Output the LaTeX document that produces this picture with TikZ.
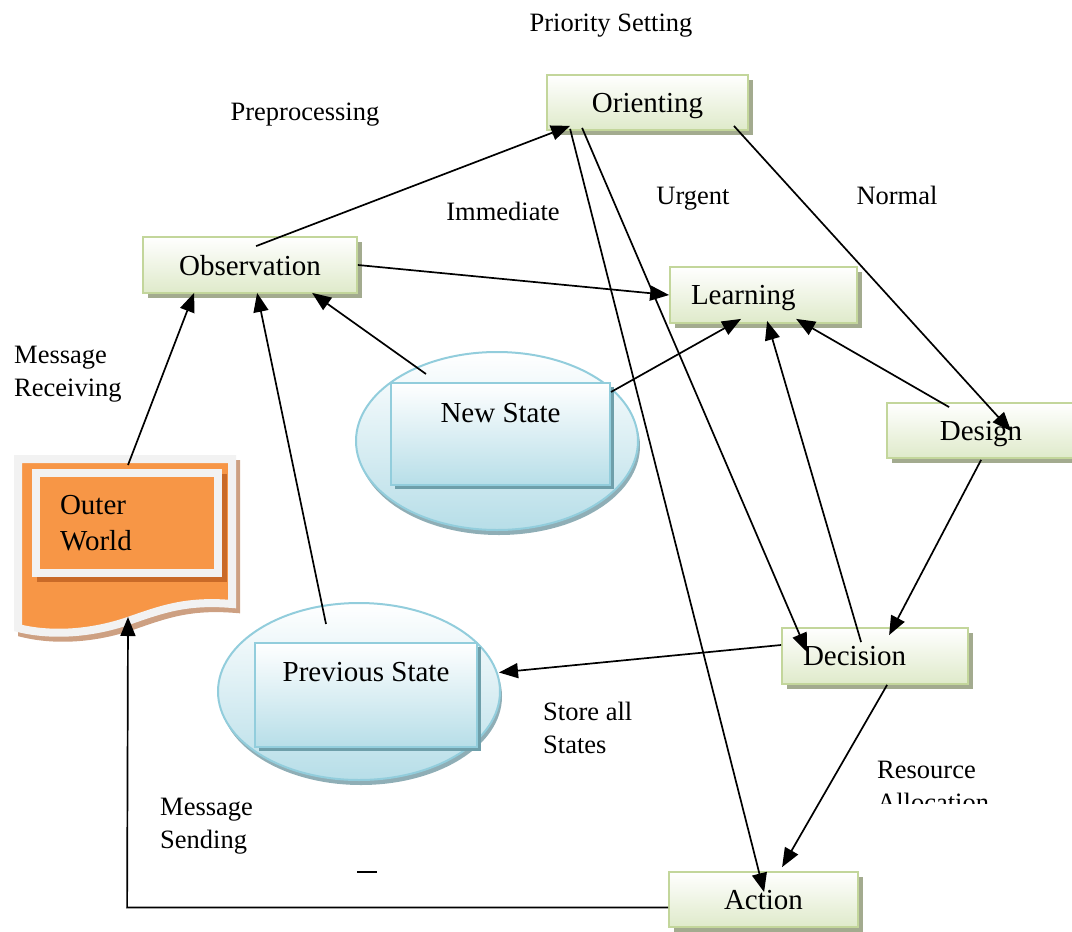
\documentclass[tikz,border=0pt]{standalone}
\usepackage{fontspec}
\setmainfont{Liberation Serif}
\usetikzlibrary{shapes.geometric,shadows,calc,arrows.meta}

\definecolor{boxline}{HTML}{C3D69B}
\definecolor{boxfill}{HTML}{DFEACA}
\definecolor{boxshadow}{HTML}{A3AB8F}
\definecolor{stateline}{HTML}{92CDDC}
\definecolor{statefill}{HTML}{B7DEE8}
\definecolor{stateshadow}{HTML}{8FAEB6}
\definecolor{rectshadow}{HTML}{6E9FAA}
\definecolor{docorange}{HTML}{F79646}
\definecolor{docborder}{HTML}{F2F2F2}
\definecolor{doctan}{HTML}{CDA082}
\definecolor{docdark}{HTML}{C96A28}

\newcommand\boxfont{\fontsize{29}{36}\selectfont}
\newcommand\lblfont{\fontsize{26.5}{32.5}\selectfont}

\tikzset{
  greenbox/.style={rectangle, draw=boxline, line width=1.8pt, top color=white,
    bottom color=boxfill, minimum height=56pt, inner sep=0pt, font=\boxfont,
    text depth=0pt,
    general shadow={fill=boxshadow, shadow xshift=5pt, shadow yshift=-5pt}},
  stateell/.style={ellipse, draw=stateline, line width=2pt, top color=white,
    bottom color=statefill, inner sep=0pt,
    general shadow={fill=stateshadow, shadow xshift=2pt, shadow yshift=-5pt}},
  staterect/.style={rectangle, draw=stateline, line width=2pt, top color=white,
    bottom color=statefill, inner sep=0pt,
    general shadow={fill=rectshadow, shadow xshift=4pt, shadow yshift=-4pt}},
  boxtext/.style={font=\boxfont, inner sep=0pt},
  lbl/.style={font=\lblfont, inner sep=0pt, align=left},
  conn/.style={line width=1.7pt, -{Triangle[length=19pt,width=15pt]}},
}

\begin{document}
\begin{tikzpicture}[x=1pt,y=-1pt]
\useasboundingbox (0,0) rectangle (1072,932);
\clip (0,0) rectangle (1072,932);

% ---- Outer world: document sheet with a wavy lower edge
\path[fill=doctan, draw=doctan, line width=8pt, shift={(4,5)}]
  (18,459) -- (232,459) -- (232,604)
  .. controls (185,600) and (160,610) .. (128,621)
  .. controls (90,634) and (50,636) .. (18,628) -- cycle;
\path[fill=docorange, draw=docborder, line width=8pt]
  (18,459) -- (232,459) -- (232,604)
  .. controls (185,600) and (160,610) .. (128,621)
  .. controls (90,634) and (50,636) .. (18,628) -- cycle;
\node[rectangle, fill=docorange, draw=docborder, line width=8pt,
  minimum width=182pt, minimum height=100pt, text width=134pt, inner xsep=24pt,
  align=left, font=\boxfont,
  general shadow={fill=docdark, draw=docdark, line width=8pt, shadow xshift=5pt, shadow yshift=-5pt}]
  (outer) at (127,523) {Outer\\World};
\coordinate (docb) at (128,617);

% ---- State ellipses
\node[stateell, minimum width=282pt, minimum height=178pt] (nsE) at (497,441) {};
\node[staterect, minimum width=219pt, minimum height=102pt] (nsR) at (500.5,434) {};
\node[boxtext] (nsT) at ($(nsR.north)+(0,31)$) {New State};

\node[stateell, minimum width=282pt, minimum height=177pt] (psE) at (359,691.5) {};
\node[staterect, minimum width=222pt, minimum height=104pt] (psR) at (366,695) {};
\node[boxtext] (psT) at ($(psR.north)+(0,30)$) {Previous State};

% ---- Process boxes
\node[greenbox, minimum width=201pt, minimum height=55pt] (ori) at (647.5,102.5) {Orienting};
\node[greenbox, minimum width=214pt] (obs) at (250,265) {Observation};
\node[greenbox, text width=145pt, inner xsep=21pt, align=left] (lrn) at (763.5,295) {Learning};
\node[greenbox, minimum width=188pt, minimum height=55pt] (des) at (981,430.5) {Design};
\node[greenbox, text width=144pt, inner xsep=21pt, align=left] (dec) at (875,656) {Decision};
\node[greenbox, minimum width=189pt, minimum height=55pt] (act) at (763.5,899.5) {Action};

% ---- Connector labels
\node[lbl, anchor=base] (lPri) at (611,31) {Priority Setting};
\node[lbl, anchor=base] (lPre) at (305,120) {Preprocessing};
\node[lbl, anchor=base] (lImm) at (503,220) {Immediate};
\node[lbl, anchor=base] (lUrg) at (693,204) {Urgent};
\node[lbl, anchor=base] (lNor) at (897,204) {Normal};
\node[lbl, anchor=north west] (lRec) at (14,346) {Message\\Receiving};
\node[lbl, anchor=north west] (lSto) at (543,702) {Store all\\States};
\node[lbl, anchor=north west] (lSen) at (160,798) {Message\\Sending};
\begin{scope}
  \clip (860,740) rectangle (1072,803);
  \node[lbl, anchor=north west] (lRes) at (877,761) {Resource\\Allocation};
\end{scope}
\draw[line width=2pt] (357,872) -- (377,872);

% ---- Connectors
\draw[conn] ($(obs.north west)+(114,10)$) -- ($(ori.south west)+(24,-5)$);
\draw[conn] (obs.east) -- (lrn.west);
\draw[conn] ($(ori.south west)+(24,-2)$) -- ($(act.north west)+(96,21)$);
\draw[conn] ($(ori.south west)+(36,-3)$) -- ($(dec.north west)+(26,25)$);
\draw[conn] ($(dec.north west)+(80,15)$) -- ($(lrn.south west)+(98,-3)$);
\draw[conn] ($(ori.south east)+(-15,-5)$) -- ($(des.north west)+(125,29)$);
\draw[conn] ($(des.north west)+(63,5)$) -- ($(lrn.south west)+(127,-5)$);
\draw[conn] ($(nsR.north east)+(0,10)$) -- ($(lrn.south west)+(72,-5)$);
\draw[conn] ($(nsR.north west)+(36,-8)$) -- ($(obs.south west)+(170,-1)$);
\draw[conn] ($(psR.north west)+(72,-18)$) -- ($(obs.south west)+(115,-1)$);
\draw[conn] ($(outer.north)+(1,-4)$) -- ($(obs.south west)+(52,-1)$);
\draw[conn] ($(des.south west)+(95,1)$) -- ($(dec.north west)+(108,8)$);
\draw[conn] ($(dec.west)+(0,-11)$) -- ($(psE.east)+(-2,-19)$);
\draw[conn] ($(dec.south west)+(106,0)$) -- ($(act.north west)+(114,-4)$);
\draw[conn] ($(act.west)+(0,8)$) -- ($(act.west)+(-541,8)$) -- (docb);
\end{tikzpicture}
\end{document}
